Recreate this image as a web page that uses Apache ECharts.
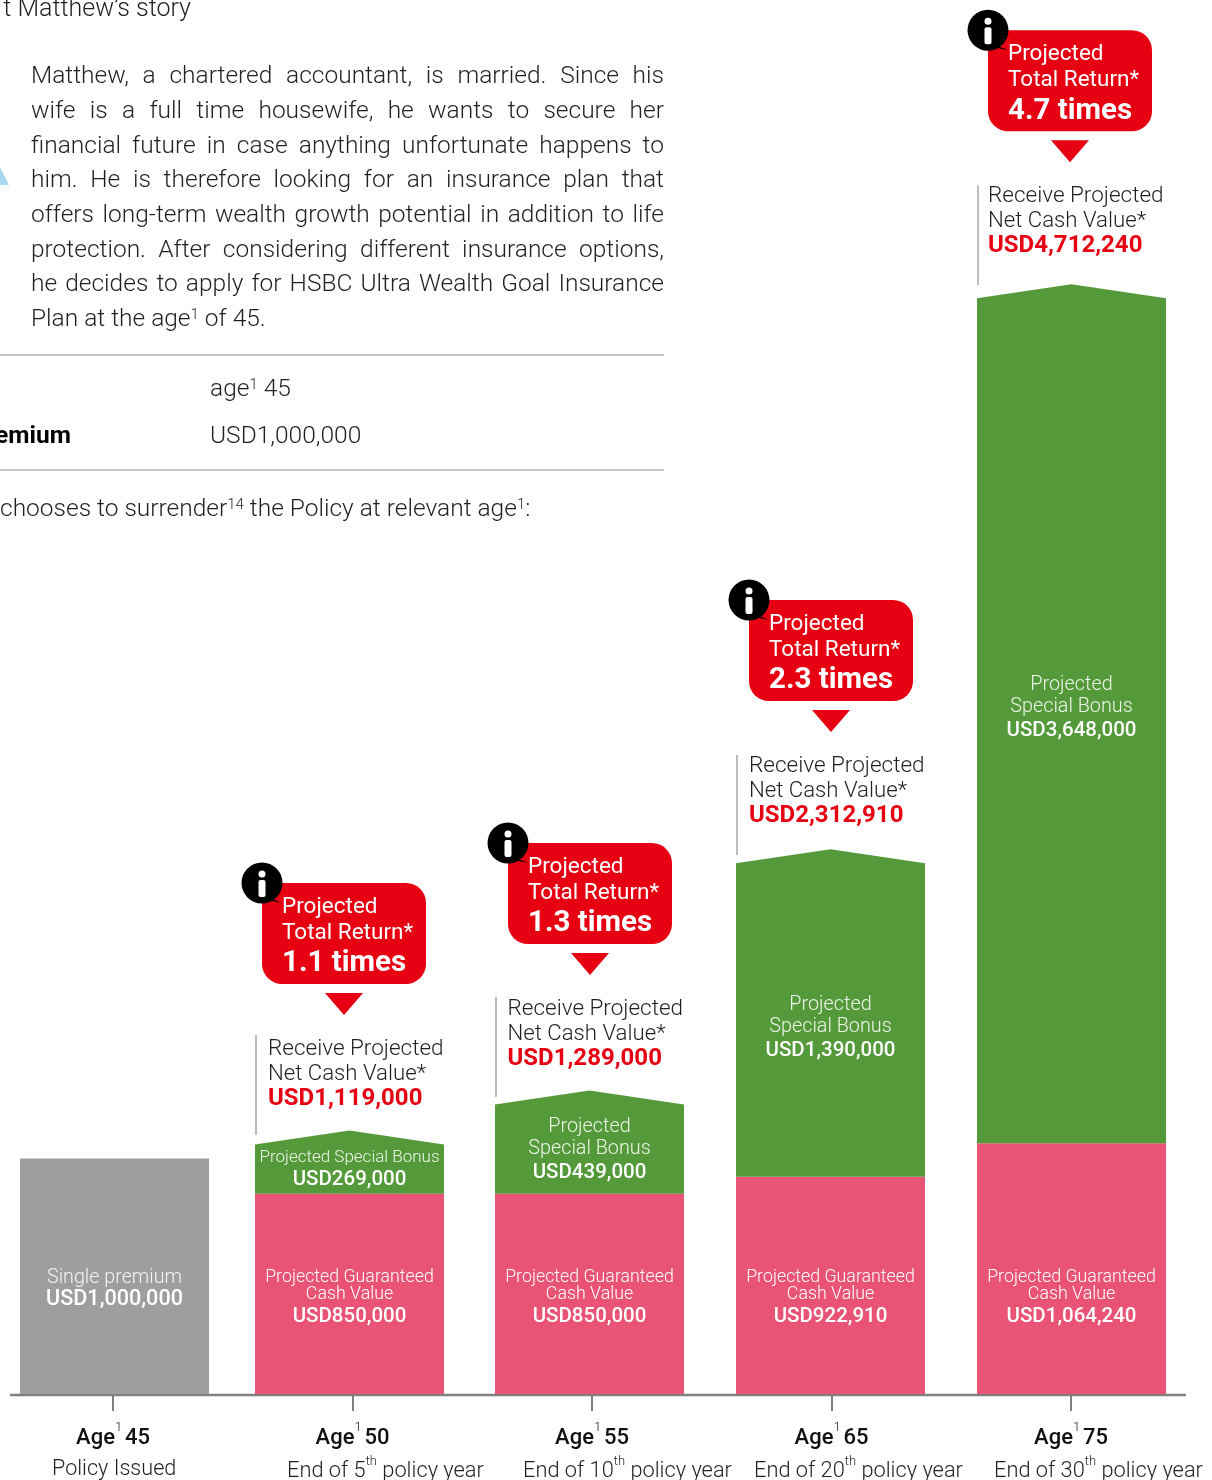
<!DOCTYPE html>
<html>
<head>
<meta charset="utf-8">
<title>Matthew's story</title>
<style>
  html, body { margin: 0; padding: 0; background: #fff; }
  #container { width: 1212px; height: 1480px; }
</style>
</head>
<body>
<div id="container"></div>
<script src="https://cdn.jsdelivr.net/npm/echarts@6/dist/echarts.min.js"></script>
<script>
// chart values
var categories = ["Age 45", "Age 50", "Age 55", "Age 65", "Age 75"];
var ages = [45, 50, 55, 65, 75];
var policyYears = ["", "5", "10", "20", "30"];
var singlePremium = [1000000, null, null, null, null];
var guaranteedCash = [null, 850000, 850000, 922910, 1064240];
var specialBonus = [null, 269000, 439000, 1390000, 3648000];
var netCashValue = [null, 1119000, 1289000, 2312910, 4712240];
var totalReturn = [null, "1.1", "1.3", "2.3", "4.7"];

var storyLines = [
  "Matthew, a chartered accountant, is married. Since his",
  "wife is a full time housewife, he wants to secure her",
  "financial future in case anything unfortunate happens to",
  "him. He is therefore looking for an insurance plan that",
  "offers long-term wealth growth potential in addition to life",
  "protection. After considering different insurance options,",
  "he decides to apply for HSBC Ultra Wealth Goal Insurance"
];

// layout tweaks, the bars in the picture are not quite on their ticks
var barNudge = [1.5, -3, -2.5, -1, 0.5];
var calloutLeft = [0, 7, 13, 13, 11];
var calloutLift = [0, 247.5, 247.4, 249.3, 254];
var ruleDrop = [0, 152, 154, 155, 155];
var netTextLeft = [0, 13, 12.5, 13, 11];
var bonusLabelDrop = [0, 25.5, 34.6, 153.7, 398.8];
var subLabelLeft = [52, 287, 523, 754, 994];

var BAR_W = 189;
var FONT = "Roboto";
var RED = "#e60012";
var GREEN = "#559a3a";
var PINK = "#e95375";
var GREY = "#9d9e9e";
var INK = "#231f20";

function usd(v) {
  return "USD" + v.toLocaleString("en-US");
}

function lightText(x, y, text, size, fill, align, extra, weight) {
  var style = {
    x: x, y: y + 2, text: text, fontSize: size, fontFamily: FONT, fontWeight: weight || 300,
    fill: fill, align: align || "center", verticalAlign: "middle"
  };
  if (extra) style.rich = extra;
  return { type: "text", silent: true, style: style };
}

function boldText(x, y, text, size, fill, align, weight) {
  return {
    type: "text", silent: true,
    style: {
      x: x, y: y + 2, text: text, fontSize: size, fontFamily: FONT, fontWeight: weight || 500,
      fill: fill, align: align || "center", verticalAlign: "middle"
    }
  };
}

function supRich(size, fill, weight) {
  return {
    t: { fontSize: size, fontFamily: FONT, fontWeight: weight, fill: fill, color: fill, lineHeight: size + 6, verticalAlign: "bottom" },
    s: { fontSize: Math.round(size * 0.6), fontFamily: FONT, fontWeight: 300, fill: fill, color: fill, lineHeight: Math.round(size * 0.6), verticalAlign: "top" },
    g: { fontSize: 11, fontFamily: FONT, lineHeight: 11, verticalAlign: "bottom" }
  };
}

function barX(api, i) {
  return api.coord([i, 0])[0] + barNudge[i] - BAR_W / 2;
}

function renderPremium(params, api) {
  var i = api.value(0);
  var base = api.coord([i, 0]);
  var top = api.coord([i, api.value(1)]);
  var x = barX(api, i);
  var cx = x + BAR_W / 2;
  return {
    type: "group",
    children: [
      { type: "rect", shape: { x: x, y: top[1], width: BAR_W, height: base[1] - top[1] }, style: { fill: GREY } },
      lightText(cx, base[1] - 118, "Single premium", 19.7, "#f2f2f2"),
      boldText(cx, base[1] - 96, usd(api.value(1)), 21.6, "#fff")
    ]
  };
}

function renderGuaranteed(params, api) {
  var i = api.value(0);
  var base = api.coord([i, 0]);
  var top = api.coord([i, api.value(1)]);
  var x = barX(api, i);
  var cx = x + BAR_W / 2;
  return {
    type: "group",
    children: [
      { type: "rect", shape: { x: x, y: top[1], width: BAR_W, height: base[1] - top[1] }, style: { fill: PINK } },
      lightText(cx, base[1] - 118, "Projected Guaranteed", 17.8, "#fff"),
      lightText(cx, base[1] - 101, "Cash Value", 17.8, "#fff"),
      boldText(cx, base[1] - 79, usd(api.value(1)), 20.5, "#fff")
    ]
  };
}

// green block with a pointed roof, the peak sits at guaranteed + bonus
function renderBonus(params, api) {
  var i = api.value(0);
  var bottom = api.coord([i, api.value(1)]);
  var peak = api.coord([i, api.value(1) + api.value(2)]);
  var x = barX(api, i);
  var cx = x + BAR_W / 2;
  var kids = [{
    type: "polygon",
    shape: { points: [[x, bottom[1]], [x, peak[1] + 14], [cx, peak[1]], [x + BAR_W, peak[1] + 14], [x + BAR_W, bottom[1]]] },
    style: { fill: GREEN }
  }];
  var y = peak[1] + bonusLabelDrop[i];
  if (i === 1) {
    kids.push(lightText(cx, y, "Projected Special Bonus", 17, "#eef5ea"));
    kids.push(boldText(cx, y + 22, usd(api.value(2)), 20.5, "#fff"));
  } else {
    kids.push(lightText(cx, y, "Projected", 19.8, "#eef5ea"));
    kids.push(lightText(cx, y + 22, "Special Bonus", 19.8, "#eef5ea"));
    kids.push(boldText(cx, y + 46, usd(api.value(2)), 20.5, "#fff"));
  }
  return { type: "group", children: kids };
}

// callout, arrow, net cash text and the thin rule above every bar
function renderCallout(params, api) {
  var i = api.value(0);
  var peak = api.coord([i, api.value(1)]);
  var x = barX(api, i);
  var boxX = x + calloutLeft[i];
  var boxY = peak[1] - calloutLift[i];
  var arrowX = boxX + 82;
  var arrowY = boxY + 110;
  var textX = x + netTextLeft[i];
  var lineTop = boxY + ruleDrop[i];
  return {
    type: "group",
    children: [
      { type: "rect", shape: { x: boxX, y: boxY, width: 164, height: 101, r: 20 }, style: { fill: RED } },
      { type: "polygon", shape: { points: [[arrowX - 19, arrowY], [arrowX + 19, arrowY], [arrowX, arrowY + 22]] }, style: { fill: RED } },
      { type: "polygon", shape: { points: [[boxX - 4, boxY + 10], [boxX + 20, boxY + 20], [boxX + 6, boxY + 17]] }, style: { fill: "#000" } },
      { type: "circle", shape: { cx: boxX, cy: boxY, r: 20.5 }, style: { fill: "#000" } },
      { type: "circle", shape: { cx: boxX, cy: boxY - 9, r: 3.5 }, style: { fill: "#fff" } },
      { type: "rect", shape: { x: boxX - 3.5, y: boxY - 3, width: 7, height: 17, r: 2 }, style: { fill: "#fff" } },
      lightText(boxX + 20, boxY + 22, "Projected", 22.5, "#fff", "left", null, 400),
      lightText(boxX + 20, boxY + 48, "Total Return*", 22.5, "#fff", "left", null, 400),
      boldText(boxX + 20, boxY + 79, totalReturn[i] + " times", 29.5, "#fff", "left", 700),
      { type: "rect", shape: { x: x + 0.5, y: lineTop, width: 1, height: 100 }, style: { fill: "#7a7a7a" } },
      lightText(textX, boxY + 164, "Receive Projected", 22.5, INK, "left"),
      lightText(textX, boxY + 189, "Net Cash Value*", 22.2, INK, "left"),
      boldText(textX, boxY + 214, usd(api.value(1)), 24, RED, "left", 700)
    ]
  };
}

function renderSubLabel(params, api) {
  var i = api.value(0);
  var base = api.coord([i, 0]);
  var y = base[1] + 72;
  if (i === 0) {
    return lightText(subLabelLeft[i], y + 2, "Policy Issued", 21.6, INK, "left");
  }
  return lightText(subLabelLeft[i], y + 1, "{t|End of " + policyYears[i] + "}{s|th}{t| policy year}", 21.8, INK, "left", supRich(21.8, INK, 300));
}

// the paragraph is justified, so every word gets placed on its own
var measure = document.createElement("canvas").getContext("2d");
function justified(line, left, right, y, size) {
  measure.font = "300 " + size + "px " + FONT;
  var words = line.split(" ");
  var used = 0;
  words.forEach(function (w) { used += measure.measureText(w).width; });
  var gap = (right - left - used) / (words.length - 1);
  var out = [];
  var x = left;
  words.forEach(function (w) {
    out.push(lightText(x, y, w, size, INK, "left"));
    x += measure.measureText(w).width + gap;
  });
  return out;
}

var BODY = 24.5;
var pageText = [];
var lineYs = [75, 110, 145, 179, 214, 249, 283];
storyLines.forEach(function (line, k) {
  pageText = pageText.concat(justified(line, 31, 664, lineYs[k], BODY));
});
pageText.push(lightText(191, 8, "t Matthew\u2019s story", 25, INK, "right"));
pageText.push(lightText(31, 318, "Plan at the age{s|1} of 45.", BODY, INK, "left", supRich(BODY, INK, 300)));
pageText.push(lightText(210, 388, "age{s|1} 45", BODY, INK, "left", supRich(BODY, INK, 300)));
pageText.push(boldText(71, 435, "emium", BODY, "#000", "right", 700));
pageText.push(lightText(210, 435, "USD1,000,000", BODY, INK, "left"));
pageText.push(lightText(0, 508, "chooses to surrender{s|14} the Policy at relevant age{s|1}:", BODY, INK, "left", supRich(BODY, INK, 300)));

var dom = document.getElementById("container");
var myChart = echarts.init(dom);

var option = {
  animation: false,
  backgroundColor: "#fff",
  grid: { left: 113, right: 141, top: 4.5, bottom: 86, containLabel: false },
  xAxis: {
    type: "category",
    boundaryGap: false,
    data: categories,
    axisLine: { show: false },
    axisTick: { show: true, length: 17, lineStyle: { color: "#808080", width: 2 } },
    axisLabel: {
      margin: 27,
      interval: 0,
      formatter: function (value, i) {
        return "{t|Age}{s|1}{g| }{t|" + ages[i] + "}";
      },
      rich: supRich(22, "#111", 500)
    }
  },
  yAxis: { type: "value", min: 0, max: 5900000, show: false },
  series: [
    { type: "custom", name: "Single premium", clip: false, renderItem: renderPremium,
      data: singlePremium.map(function (v, i) { return v === null ? null : [i, v]; }).filter(Boolean) },
    { type: "custom", name: "Projected Guaranteed Cash Value", clip: false, renderItem: renderGuaranteed,
      data: guaranteedCash.map(function (v, i) { return v === null ? null : [i, v]; }).filter(Boolean) },
    { type: "custom", name: "Projected Special Bonus", clip: false, renderItem: renderBonus,
      data: specialBonus.map(function (v, i) { return v === null ? null : [i, guaranteedCash[i], v]; }).filter(Boolean) },
    { type: "custom", name: "Projected Net Cash Value", clip: false, renderItem: renderCallout,
      data: netCashValue.map(function (v, i) { return v === null ? null : [i, v]; }).filter(Boolean) },
    { type: "custom", name: "Policy year", clip: false, renderItem: renderSubLabel,
      data: categories.map(function (c, i) { return [i]; }) }
  ],
  graphic: {
    elements: [
      { type: "line", silent: true, shape: { x1: 10, y1: 1395, x2: 1186, y2: 1395 }, style: { stroke: "#808080", lineWidth: 2.5 } },
      { type: "line", silent: true, shape: { x1: 0, y1: 355, x2: 664, y2: 355 }, style: { stroke: "#c8c8c8", lineWidth: 2 } },
      { type: "line", silent: true, shape: { x1: 0, y1: 470, x2: 664, y2: 470 }, style: { stroke: "#c8c8c8", lineWidth: 2 } },
      { type: "polygon", silent: true, shape: { points: [[0, 167], [9, 185], [0, 185]] }, style: { fill: "#a8d8f0" } }
    ].concat(pageText)
  }
};

myChart.setOption(option, true);
</script>
</body>
</html>
